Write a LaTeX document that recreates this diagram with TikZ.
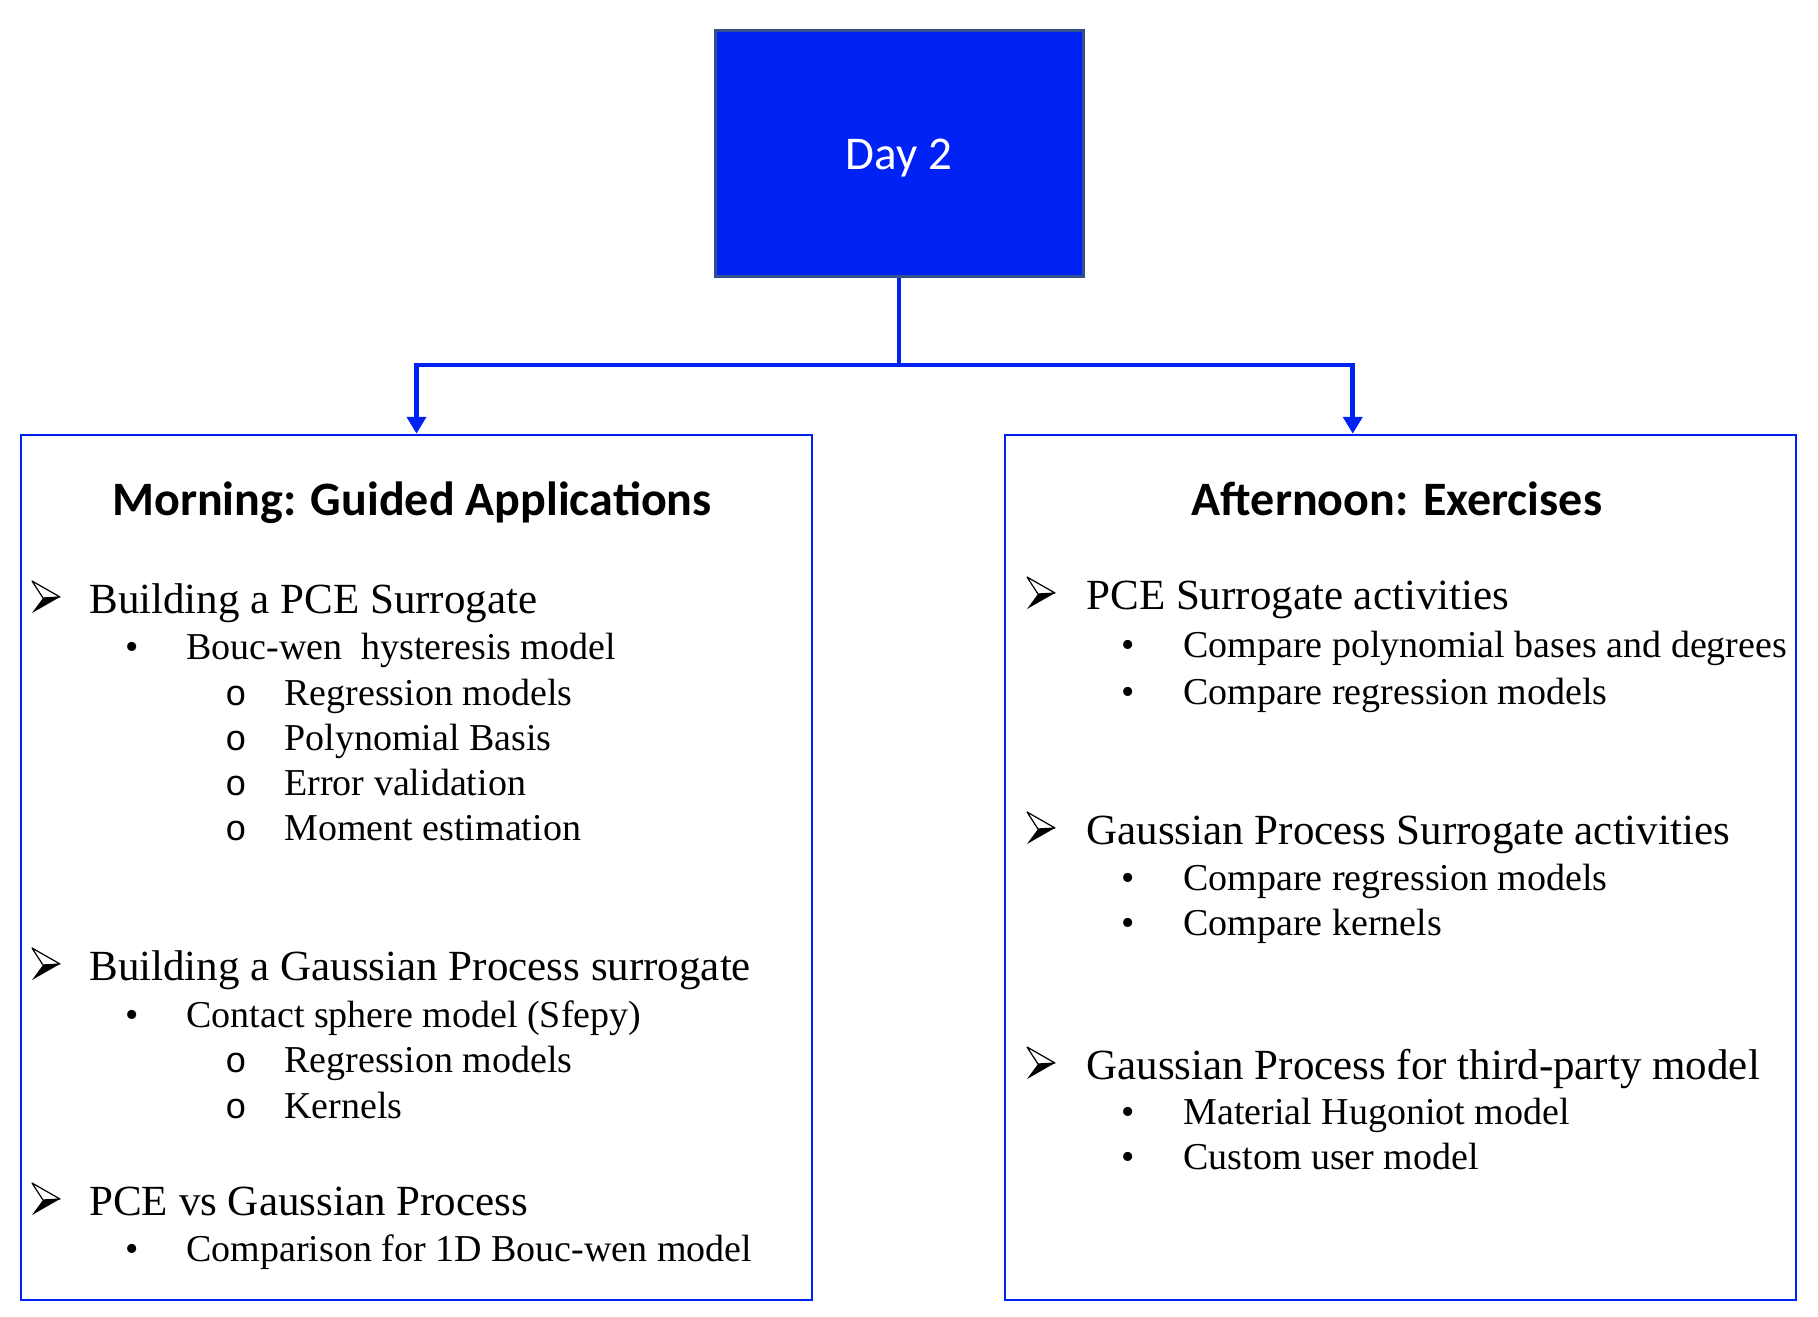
\documentclass[tikz,border=0pt]{standalone}
\usepackage{fontspec}
\setmainfont{Liberation Serif}
\newfontfamily\calfont{Carlito}
\newfontfamily\monofont{Liberation Mono}
\usetikzlibrary{arrows.meta,calc}
\definecolor{vblue}{RGB}{0,34,245}
\definecolor{edgeblue}{RGB}{52,80,140}
\tikzset{
  boxframe/.style={draw=vblue, line width=1.25pt, fill=white, inner sep=0pt},
  conn/.style={draw=vblue, line width=2.3pt, -{Triangle[length=8.5pt,width=9.5pt]}},
  titletext/.style={font=\calfont\bfseries\fontsize{24}{28}\selectfont, anchor=base, inner sep=0pt},
  maintext/.style={font=\fontsize{21.5}{25}\selectfont, anchor=base west, inner sep=0pt},
  subtext/.style={font=\fontsize{19}{22}\selectfont, anchor=base west, inner sep=0pt},
  bul/.style={font=\fontsize{19}{22}\selectfont, anchor=base, inner sep=0pt},
  circbul/.style={font=\monofont\fontsize{18}{22}\selectfont, anchor=base, inner sep=0pt},
  harrow/.pic={
    \fill[black] (11,-15) -- (28,-16) -- (0,0) -- cycle;
    \draw[black, line width=0.6pt, line join=round] (11,-15) -- (0,-32) -- (28,-16) -- cycle;
  }
}
\begin{document}
\begin{tikzpicture}[x=0.5pt, y=-0.5pt]
\useasboundingbox (0,0) rectangle (1818,1316);
% top box
\node[draw=edgeblue, line width=1.5pt, fill=vblue, minimum width=184pt, minimum height=122.5pt, inner sep=0pt] (D) at (899,153.5) {};
\node[font=\calfont\fontsize{23.5}{28}\selectfont, text=white, anchor=base, inner sep=0pt] (Dt) at (899,170) {Day 2};
% section boxes
\node[boxframe, minimum width=395.5pt, minimum height=432.5pt] (L) at (416.5,867.5) {};
\node[boxframe, minimum width=395.5pt, minimum height=432.5pt] (R) at (1400.5,867.5) {};
% connectors
\coordinate (J) at (899,365);
\draw[conn] (D.south) -- (J) -| (L.north);
\draw[conn] (D.south) -- (J) -| ($(R.north west)+(349,0)$);
% titles
\node[titletext] (Lt) at (412,515) {Morning: Guided Applications};
\node[titletext] (Rt) at (1397,515) {Afternoon: Exercises};
% left content
\pic at (32,613) {harrow};
\node[maintext] (l1) at (89,613) {Building a PCE Surrogate};
\node[bul] (l1b) at (132,659) {•};
\node[subtext] (l11) at (186,659) {Bouc-wen\ \ hysteresis model};
\node[circbul] (l111o) at (236,705) {o};
\node[subtext] (l111) at (284,705) {Regression models};
\node[circbul] (l112o) at (236,750) {o};
\node[subtext] (l112) at (284,750) {Polynomial Basis};
\node[circbul] (l113o) at (236,795) {o};
\node[subtext] (l113) at (284,795) {Error validation};
\node[circbul] (l114o) at (236,840) {o};
\node[subtext] (l114) at (284,840) {Moment estimation};
\pic at (32,980) {harrow};
\node[maintext] (l2) at (89,980) {Building a Gaussian Process surrogate};
\node[bul] (l2b) at (132,1027) {•};
\node[subtext] (l21) at (186,1027) {Contact sphere model (Sfepy)};
\node[circbul] (l211o) at (236,1072) {o};
\node[subtext] (l211) at (284,1072) {Regression models};
\node[circbul] (l212o) at (236,1118) {o};
\node[subtext] (l212) at (284,1118) {Kernels};
\pic at (32,1215) {harrow};
\node[maintext] (l3) at (89,1215) {PCE vs Gaussian Process};
\node[bul] (l3b) at (132,1261) {•};
\node[subtext] (l31) at (186,1261) {Comparison for 1D Bouc-wen model};
% right content
\pic at (1027,609) {harrow};
\node[maintext] (r1) at (1086,609) {PCE Surrogate activities};
\node[bul] (r1b) at (1128,657) {•};
\node[subtext] (r11) at (1183,657) {Compare polynomial bases and degrees};
\node[bul] (r1c) at (1128,704) {•};
\node[subtext] (r12) at (1183,704) {Compare regression models};
\pic at (1027,844) {harrow};
\node[maintext] (r2) at (1086,844) {Gaussian Process Surrogate activities};
\node[bul] (r2b) at (1128,890) {•};
\node[subtext] (r21) at (1183,890) {Compare regression models};
\node[bul] (r2c) at (1128,935) {•};
\node[subtext] (r22) at (1183,935) {Compare kernels};
\pic at (1027,1079) {harrow};
\node[maintext] (r3) at (1086,1079) {Gaussian Process for third-party model};
\node[bul] (r3b) at (1128,1124) {•};
\node[subtext] (r31) at (1183,1124) {Material Hugoniot model};
\node[bul] (r3c) at (1128,1169) {•};
\node[subtext] (r32) at (1183,1169) {Custom user model};
\end{tikzpicture}
\end{document}
